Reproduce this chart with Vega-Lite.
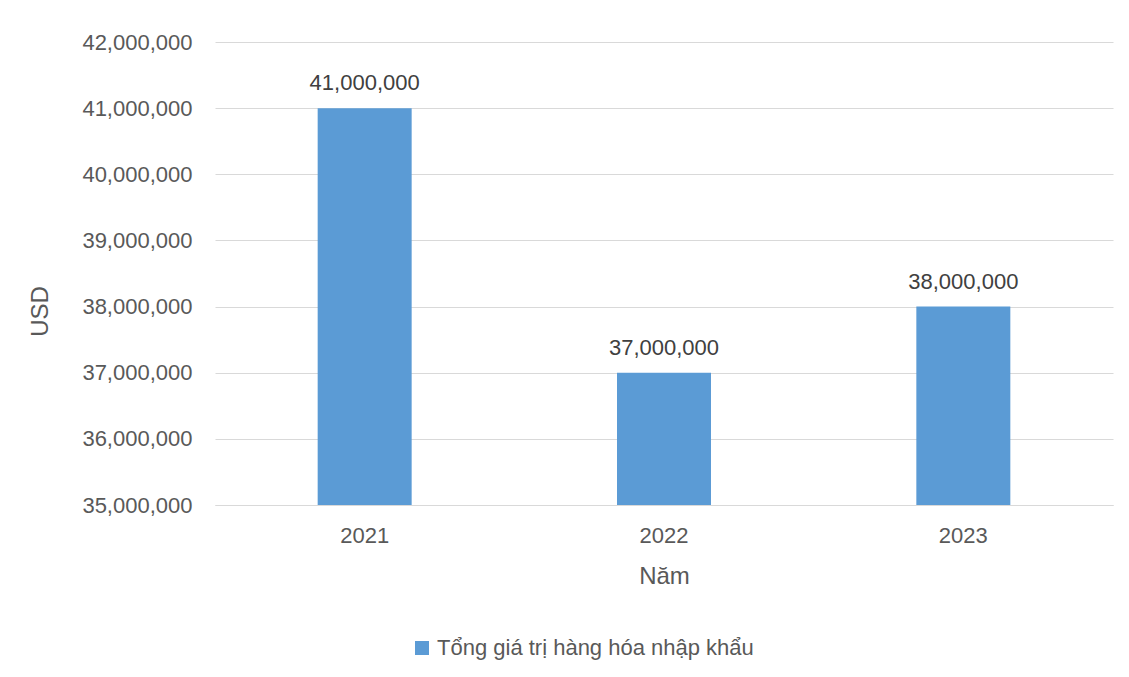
{
  "$schema": "https://vega.github.io/schema/vega-lite/v6.json",
  "width": 898,
  "height": 463,
  "autosize": "none",
  "padding": {"left": 215, "top": 42, "right": 16, "bottom": 172},
  "background": "white",
  "config": {
    "view": {"stroke": null},
    "font": "Liberation Sans",
    "text": {"font": "Liberation Sans"}
  },
  "data": {
    "values": [
      {"year": "2021", "value": 41000000, "series": "Tổng giá trị hàng hóa nhập khẩu"},
      {"year": "2022", "value": 37000000, "series": "Tổng giá trị hàng hóa nhập khẩu"},
      {"year": "2023", "value": 38000000, "series": "Tổng giá trị hàng hóa nhập khẩu"}
    ]
  },
  "encoding": {
    "x": {
      "field": "year",
      "type": "nominal",
      "scale": {"paddingInner": 0.686, "paddingOuter": 0.343},
      "axis": {
        "title": "Năm",
        "labelAngle": 0,
        "labelFontSize": 22,
        "labelColor": "#595959",
        "labelPadding": 20,
        "ticks": false,
        "domainColor": "#D9D9D9",
        "domainWidth": 1,
        "titleFontSize": 24,
        "titleFontWeight": "normal",
        "titleColor": "#595959",
        "titlePadding": 18
      }
    },
    "y": {
      "field": "value",
      "type": "quantitative",
      "scale": {"domain": [35000000, 42000000], "nice": false, "zero": false},
      "axis": {
        "title": "USD",
        "values": [35000000, 36000000, 37000000, 38000000, 39000000, 40000000, 41000000, 42000000],
        "labelExpr": "format(datum.value, ',')",
        "labelFontSize": 22,
        "labelColor": "#595959",
        "labelPadding": 23,
        "ticks": false,
        "domain": false,
        "gridColor": "#D9D9D9",
        "gridWidth": 1,
        "titleFontSize": 24,
        "titleFontWeight": "normal",
        "titleColor": "#595959",
        "titleX": -163,
        "titleY": 269
      }
    }
  },
  "layer": [
    {
      "mark": {"type": "bar"},
      "encoding": {
        "y2": {"datum": 35000000},
        "color": {
          "field": "series",
          "type": "nominal",
          "scale": {"range": ["#5B9BD5"]},
          "legend": {
            "title": null,
            "orient": "none",
            "legendX": 196,
            "legendY": 595,
            "symbolType": "square",
            "symbolSize": 196,
            "symbolStrokeWidth": 0,
            "labelFontSize": 22,
            "labelColor": "#595959",
            "labelOffset": 4,
            "labelLimit": 600
          }
        }
      }
    },
    {
      "mark": {"type": "text", "baseline": "alphabetic", "dy": -18, "fontSize": 22, "color": "#404040"},
      "encoding": {
        "text": {"field": "value", "type": "quantitative", "format": ","}
      }
    }
  ]
}
